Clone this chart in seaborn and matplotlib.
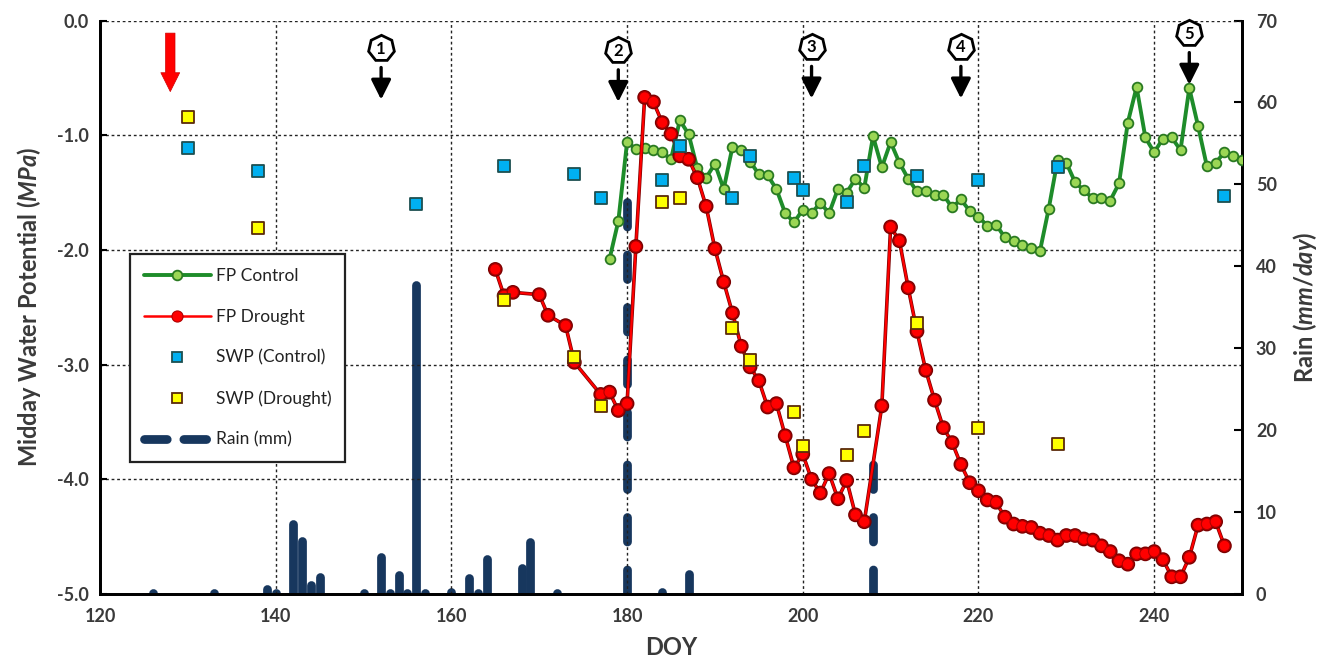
import matplotlib
matplotlib.use("Agg")
import matplotlib.pyplot as plt
from matplotlib.lines import Line2D
from matplotlib.ticker import FormatStrFormatter, MultipleLocator
import matplotlib.patheffects as pe
import seaborn as sns

# ---------------- data ----------------
control_doy = [178, 179, 180, 181, 182, 183, 184, 185, 186, 187, 188, 189, 190, 191, 192, 193,
               194, 195, 196, 197, 198, 199, 200, 201, 202, 203, 204, 205, 206, 207, 208, 209,
               210, 211, 212, 213, 214, 215, 216, 217, 218, 219, 220, 221, 222, 223, 224, 225,
               226, 227, 228, 229, 230, 231, 232, 233, 234, 235, 236, 237, 238, 239, 240, 241,
               242, 243, 244, 245, 246, 247, 248, 249, 250]
control_mpa = [-2.08, -1.75, -1.06, -1.12, -1.11, -1.13, -1.15, -1.21, -0.87, -0.99, -1.29, -1.37,
               -1.25, -1.47, -1.10, -1.13, -1.23, -1.34, -1.35, -1.47, -1.68, -1.76, -1.65, -1.68,
               -1.59, -1.68, -1.47, -1.50, -1.38, -1.46, -1.01, -1.28, -1.06, -1.24, -1.38, -1.49,
               -1.49, -1.52, -1.52, -1.63, -1.56, -1.66, -1.71, -1.79, -1.78, -1.89, -1.92, -1.96,
               -1.98, -2.01, -1.64, -1.22, -1.24, -1.41, -1.48, -1.55, -1.55, -1.57, -1.42, -0.89,
               -0.58, -1.02, -1.15, -1.03, -1.02, -1.13, -0.59, -0.92, -1.27, -1.24, -1.15, -1.18,
               -1.22]

drought_doy = [165, 166, 167, 170, 171, 173, 174, 177, 178, 179, 180,
               181, 182, 183, 184, 185, 186, 187, 188, 189, 190, 191, 192, 193, 194, 195, 196,
               197, 198, 199, 200, 201, 202, 203, 204, 205, 206, 207,
               209, 210, 211, 212, 213, 214, 215, 216, 217, 218, 219, 220, 221, 222, 223, 224,
               225, 226, 227, 228, 229, 230, 231, 232, 233, 234, 235, 236, 237, 238, 239, 240,
               241, 242, 243, 244, 245, 246, 247, 248]
drought_mpa = [-2.17, -2.40, -2.37, -2.39, -2.57, -2.66, -2.98, -3.26, -3.24, -3.40, -3.34,
               -1.97, -0.67, -0.71, -0.89, -0.99, -1.18, -1.21, -1.37, -1.62, -1.99, -2.28, -2.55,
               -2.84, -3.02, -3.14, -3.37, -3.34, -3.62, -3.90, -3.78, -4.00, -4.12, -3.95, -4.17,
               -4.01, -4.31, -4.37,
               -3.36, -1.80, -1.92, -2.33, -2.71, -3.05, -3.31, -3.55, -3.68, -3.87, -4.03, -4.10,
               -4.18, -4.20, -4.33, -4.39, -4.41, -4.42, -4.47, -4.49, -4.53, -4.49, -4.49, -4.52,
               -4.53, -4.58, -4.63, -4.71, -4.74, -4.65, -4.65, -4.63, -4.70, -4.85, -4.85, -4.68,
               -4.40, -4.39, -4.37, -4.58]

swp_control_doy = [130, 138, 156, 166, 174, 177, 184, 186, 192, 194, 199, 200, 205, 207, 213, 220, 229, 248]
swp_control_mpa = [-1.11, -1.31, -1.60, -1.27, -1.34, -1.55, -1.39, -1.09, -1.55, -1.18, -1.37, -1.48,
                   -1.58, -1.27, -1.36, -1.39, -1.28, -1.53]

swp_drought_doy = [130, 138, 166, 174, 177, 184, 186, 192, 194, 199, 200, 205, 207, 213, 220, 229]
swp_drought_mpa = [-0.84, -1.81, -2.44, -2.93, -3.36, -1.58, -1.55, -2.68, -2.96, -3.41, -3.71,
                   -3.79, -3.58, -2.64, -3.55, -3.69]

rain_doy = [126, 133, 139, 140, 142, 143, 144, 145, 150, 152, 153, 154, 155, 156, 157, 160,
            162, 163, 164, 168, 169, 172, 180, 184, 187, 208]
rain_mm = [0.1, 0.1, 0.6, 0.1, 8.6, 6.5, 1.1, 2.1, 0.1, 4.5, 0.1, 2.3, 0.1, 37.7, 0.1, 0.2,
           2.0, 0.1, 4.3, 3.2, 6.3, 0.1, 49.5, 0.2, 2.4, 19.0]

event_doy = [152, 179, 201, 218, 244]
event_labels = ["1", "2", "3", "4", "5"]
event_mark_mpa = [-0.24, -0.26, -0.23, -0.23, -0.11]
start_doy = 128

xticks = [120, 140, 160, 180, 200, 220, 240]

# ---------------- style ----------------
sns.set_theme(style="white")
plt.rcParams["font.family"] = ["Lato", "DejaVu Sans"]
plt.rcParams["axes.unicode_minus"] = False
plt.rcParams["mathtext.fontset"] = "custom"
plt.rcParams["mathtext.it"] = "Lato:italic:bold"
plt.rcParams["mathtext.rm"] = "Lato:bold"
plt.rcParams["lines.scale_dashes"] = True

GREEN_LINE = "#1e8c2a"
GREEN_FACE = "#9bd655"
GREEN_EDGE = "#2a7a22"
RED = "#ff0000"
RED_EDGE = "#b00000"
CYAN = "#00b0f0"
CYAN_EDGE = "#1d4f50"
YELLOW = "#ffff00"
YELLOW_EDGE = "#5a2a0a"
NAVY = "#17375e"
TXT = "#3a3a3a"

fig = plt.figure(figsize=(13.31, 6.63), dpi=100)
ax = fig.add_axes([100 / 1331, 1 - 594 / 663, 1142 / 1331, (594 - 20.5) / 663])
ax2 = ax.twinx()
ax.set_zorder(ax2.get_zorder() + 1)
ax.patch.set_visible(False)
ax2.patch.set_facecolor("white")

# rain on secondary axis
RAIN_LW = 6.3
dash_pattern = (0, (2.8, 3.2))
dashed_days = (180, 208)
for d, r in zip(rain_doy, rain_mm):
    ls = dash_pattern if d in dashed_days else "-"
    ax2.plot([d, d], [0, r], color=NAVY, lw=RAIN_LW, solid_capstyle="round",
             dash_capstyle="round", linestyle=ls, clip_on=True)
ax2.set_ylim(0, 70)
ax2.yaxis.set_major_locator(MultipleLocator(10))

# grid (on main axis)
ax.set_xlim(120, 250)
ax.set_ylim(-5, 0)
ax.set_xticks(xticks)
ax.yaxis.set_major_locator(MultipleLocator(1.0))
ax.yaxis.set_major_formatter(FormatStrFormatter("%.1f"))
ax.grid(True, which="major", color="#222222", linestyle=(0, (2, 2)), linewidth=1.0)

# lines
sns.lineplot(x=control_doy, y=control_mpa, ax=ax, color=GREEN_LINE, lw=2.8,
             marker="o", markersize=7, markerfacecolor=GREEN_FACE, markeredgecolor=GREEN_EDGE,
             markeredgewidth=1.3, zorder=4, legend=False)
sns.lineplot(x=drought_doy, y=drought_mpa, ax=ax, color=RED, lw=1.6,
             marker="o", markersize=8, markerfacecolor=RED, markeredgecolor=RED_EDGE,
             markeredgewidth=0.8, zorder=4, legend=False,
             path_effects=[pe.Stroke(linewidth=2.6, foreground="#7a0000"), pe.Normal()])

sns.scatterplot(x=swp_control_doy, y=swp_control_mpa, ax=ax, marker="s", s=70,
                color=CYAN, edgecolor=CYAN_EDGE, linewidth=1.3, zorder=6, legend=False)
sns.scatterplot(x=swp_drought_doy, y=swp_drought_mpa, ax=ax, marker="s", s=70,
                color=YELLOW, edgecolor=YELLOW_EDGE, linewidth=1.3, zorder=6, legend=False)

# event markers
for d, lab, m in zip(event_doy, event_labels, event_mark_mpa):
    ax.plot([d], [m], marker=(7, 0, 0), ms=19, mfc="white", mec="black", mew=2.0,
            zorder=7, clip_on=False)
    ax.text(d, m - 0.005, lab, ha="center", va="center", fontsize=12, color="black",
            zorder=8, fontweight="bold")
    ax.annotate("", xy=(d, m - 0.45), xytext=(d, m - 0.17),
                arrowprops=dict(arrowstyle="-|>,head_length=0.6,head_width=0.3",
                                mutation_scale=20, color="black", lw=2.4,
                                shrinkA=0, shrinkB=0), zorder=7)
ax.annotate("", xy=(start_doy, -0.62), xytext=(start_doy, -0.11),
            arrowprops=dict(arrowstyle="simple,head_length=0.8,head_width=0.8,tail_width=0.4",
                            mutation_scale=17, fc=RED, ec="#d00000", lw=0.5,
                            shrinkA=0, shrinkB=0), zorder=7)

# spines / ticks
for a in (ax, ax2):
    for s in a.spines.values():
        s.set_color("black")
        s.set_linewidth(2.0)
    a.spines["top"].set_visible(False)
ax.tick_params(axis="both", direction="in", length=5, width=1.5, colors="black",
               labelcolor=TXT, labelsize=13, pad=8)
ax2.tick_params(axis="y", direction="in", length=6, width=1.5, colors="black",
                labelcolor=TXT, labelsize=13, pad=10)
ax.tick_params(axis="x", pad=10)
for lab in ax.get_xticklabels() + ax.get_yticklabels() + ax2.get_yticklabels():
    lab.set_fontweight("bold")

ax.set_xlabel("DOY", fontsize=17, fontweight="bold", color=TXT, labelpad=8)
ax.set_ylabel(r"Midday Water Potential $\mathit{(MPa)}$", fontsize=17, fontweight="bold",
              color=TXT, labelpad=10)
ax2.set_ylabel(r"Rain $\mathit{(mm/day)}$", fontsize=17, fontweight="bold", color=TXT,
               labelpad=10)

# legend
handles = [
    Line2D([], [], color=GREEN_LINE, lw=2.8, marker="o", ms=7, mfc=GREEN_FACE, mec=GREEN_EDGE, mew=1.3),
    Line2D([], [], color=RED, lw=1.8, marker="o", ms=8, mfc=RED, mec=RED_EDGE, mew=0.8),
    Line2D([], [], ls="none", marker="s", ms=7, mfc=CYAN, mec=CYAN_EDGE, mew=1.3),
    Line2D([], [], ls="none", marker="s", ms=7, mfc=YELLOW, mec=YELLOW_EDGE, mew=1.3),
    Line2D([], [], color=NAVY, lw=RAIN_LW, ls=(0, (2.6, 1.9)), dash_capstyle="round"),
]
labels = ["FP Control", "FP Drought", "SWP (Control)", "SWP (Drought)", "Rain (mm)"]
leg = ax.legend(handles, labels, loc="upper left", bbox_to_anchor=(0.026, 0.592),
                frameon=True, fancybox=False, framealpha=1, edgecolor="#222222",
                fontsize=12.5, handlelength=3.9, labelspacing=1.42, borderpad=0.8,
                handletextpad=0.25, borderaxespad=0)
leg.get_frame().set_linewidth(1.6)
for t in leg.get_texts():
    t.set_color("#222222")
leg.set_zorder(10)

fig.savefig("out.png", dpi=100, facecolor="white")
